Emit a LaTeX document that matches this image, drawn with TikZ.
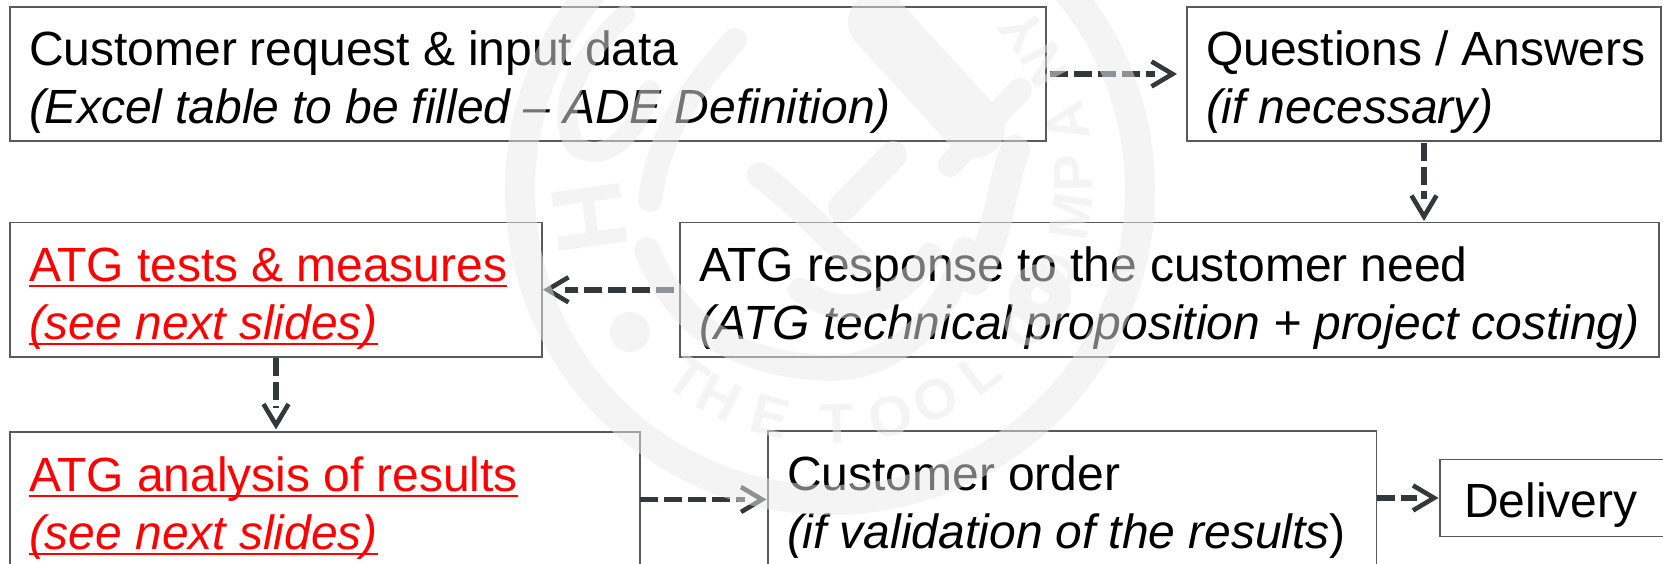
\documentclass[tikz,border=0pt]{standalone}
\usepackage{fontspec}
\setmainfont{Liberation Sans}
\usetikzlibrary{arrows.meta}
\definecolor{boxline}{HTML}{5A5A5A}
\definecolor{flowcol}{HTML}{33383C}
\definecolor{wmcol}{gray}{0.92}
\newcommand\stagefont{\fontsize{48}{58}\selectfont\setlength{\spaceskip}{13pt}}
\newcommand\Lna[1]{\mbox{\rule{0pt}{51pt}\stagefont #1}}
\newcommand\Lnb[1]{\mbox{\stagefont #1}}
\newcommand\redul[1]{\setbox0\hbox{#1}\rlap{\rule[-6.2pt]{\wd0}{2.6pt}}\box0}
\tikzset{
  stage/.style={draw=boxline,line width=1.2pt,inner ysep=0pt,inner xsep=19pt,outer sep=0pt,
    align=left,anchor=north west,font=\fontsize{48}{58}\selectfont},
  hot/.style={text=red},
  flowdash/.style={draw=flowcol,line width=5.5pt,dash pattern=on 18pt off 6pt},
  flowtip/.style={draw=flowcol,line width=4.6pt,dash pattern=on 0pt off 2000pt,
    -{Straight Barb[length=21pt,width=25pt]}},
  wmink/.style={draw=wmcol,line cap=round,line join=round},
  wmletter/.style={text=wmcol,font=\bfseries\fontsize{56}{56}\selectfont,inner sep=0pt},
}
% start gap, end gap, from, to
\newcommand\flowlink[4]{%
  \draw[flowdash,shorten <=#1,shorten >=#2+22pt] (#3) -- (#4);
  \draw[flowtip,shorten >=#2] (#3) -- (#4);}
\begin{document}
\begin{tikzpicture}[x=1pt,y=-1pt]
\path[use as bounding box,clip] (0,0) rectangle (1663,564);
\fill[white] (0,0) rectangle (1663,564);
% boxes
\node[stage,text width=998pt,minimum height=134pt] (b1) at (10,7)
  {\Lna{Customer request \& input data}\\\Lnb{\itshape (Excel table to be filled – ADE Definition)}};
\node[stage,text width=436pt,minimum height=134pt] (b2) at (1187,7)
  {\Lna{Questions / Answers}\\\Lnb{\itshape (if necessary)}};
\node[stage,text width=941pt,minimum height=134.5pt] (b3) at (680,222.5)
  {\Lna{ATG response to the customer need}\\\Lnb{\itshape (ATG technical proposition + project costing)}};
\node[stage,hot,text width=494pt,minimum height=134.5pt] (b4) at (10,222.5)
  {\Lna{\redul{ATG tests \& measures}}\\\Lnb{\redul{\itshape (see next slides)}}};
\node[stage,hot,text width=592pt,minimum height=135pt] (b5) at (10,432)
  {\Lna{\redul{ATG analysis of results}}\\\Lnb{\redul{\itshape (see next slides)}}};
\node[stage,text width=570.5pt,minimum height=136pt] (b6) at (768,431)
  {\Lna{Customer order}\\\Lnb{{\itshape (if validation of the results})}};
\node[stage,inner xsep=24pt,text width=212pt,minimum height=76.5pt] (b7) at (1440,459.7)
  {\mbox{\rule{0pt}{49pt}Delivery}};
% connectors
\coordinate (c2a) at (b2.south);
\coordinate (c2b) at (b2.south |- b3.north);
\coordinate (c4a) at (b4.south);
\coordinate (c4b) at (b4.south |- b5.north);
\coordinate (c1b) at (b1.east -| b2.west);
\coordinate (c3b) at (b3.west -| b4.east);
\coordinate (c5b) at (b5.east -| b6.west);
\coordinate (c6a) at (b6.east |- b7.west);
\flowlink{4pt}{10pt}{b1.east}{c1b}
\flowlink{2pt}{1.5pt}{c2a}{c2b}
\flowlink{6pt}{1pt}{b3.west}{c3b}
\flowlink{1pt}{2.5pt}{c4a}{c4b}
\flowlink{0pt}{1.5pt}{b5.east}{c5b}
\flowlink{0pt}{1.5pt}{c6a}{b7.west}
% watermark
\begin{scope}[transparency group,opacity=0.5]
  \draw[wmink,line width=30pt] (830,190) circle[radius=310pt];
  \draw[wmink,line width=26pt] (647,250) .. controls (680,330) and (740,365) .. (830,368)
     .. controls (900,368) and (950,310) .. (965,250);
  \fill[wmcol] (630,332) circle[radius=20pt];
  \draw[wmink,line width=22pt] (1040,295) circle[radius=20pt];
  % central brush strokes
  \draw[wmink,line width=60pt] (878,22) -- (975,128);
  \draw[wmink,line width=24pt] (1020,90) -- (950,165);
  \draw[wmink,line width=28pt] (893,155) -- (842,208);
  \draw[wmink,line width=30pt] (1015,150) .. controls (1000,190) and (1000,230) .. (975,280);
  \draw[wmink,line width=20pt] (625,15) .. controls (575,60) and (555,110) .. (575,145)
     .. controls (600,165) and (635,140) .. (650,90);
  \draw[wmink,line width=24pt] (735,40) .. controls (690,90) and (660,130) .. (650,200);
  \draw[wmink,line width=26pt] (760,175) .. controls (800,205) and (830,240) .. (860,265);
  \draw[wmink,line width=24pt] (800,290) .. controls (850,325) and (900,300) .. (930,255);
  % ring lettering
  \node[wmletter,font=\bfseries\fontsize{100}{100}\selectfont,rotate=278] (wmh) at (590,217) {H};
  \foreach \ch/\ang in {T/234.2,H/243.1,E/255.8,T/271.6,O/284.4,O/295.8,L/307.9,
      C/323,O/337,M/351.3,P/1.6,A/13.6,N/28.3,Y/37.9}{
    \node[wmletter,rotate=\ang+90] (wm\ang) at ({830+244*cos(\ang)},{180-244*sin(\ang)}) {\ch};
  }
\end{scope}
\end{tikzpicture}
\end{document}
